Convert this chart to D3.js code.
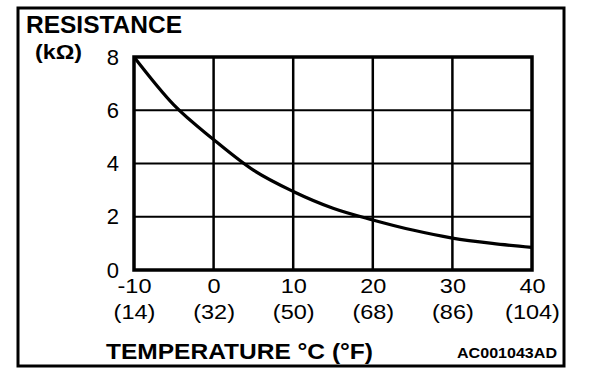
<!DOCTYPE html>
<html>
<head>
<meta charset="utf-8">
<script src="https://cdn.jsdelivr.net/npm/d3@7"></script>
<style>
  html, body { margin: 0; padding: 0; background: #fff; }
  svg { display: block; }
  text { font-family: "Liberation Sans", Arial, Helvetica, sans-serif; fill: #000; }
</style>
</head>
<body>
<svg id="chart" width="608" height="380"></svg>
<script>
const temperaturesC = [-10, -5, 0, 5, 10, 15, 20, 25, 30, 35, 40];
const resistanceK = [8.0, 6.2, 4.9, 3.75, 2.95, 2.32, 1.88, 1.5, 1.2, 1.0, 0.85];
const xTickValues = [-10, 0, 10, 20, 30, 40];
const xTickFahrenheit = ["(14)", "(32)", "(50)", "(68)", "(86)", "(104)"];
const yTickValues = [0, 2, 4, 6, 8];
const yTitleLines = ["RESISTANCE", "(kΩ)"];
const xTitle = "TEMPERATURE °C (°F)";
const figureCode = "AC001043AD";

const svg = d3.select("#chart");
const x = d3.scaleLinear().domain([-10, 40]).range([134, 532]);
const y = d3.scaleLinear().domain([0, 8]).range([270, 57]);
const FONT = "Liberation Sans, Arial, sans-serif";

// outer frame
svg.append("rect")
  .attr("x", 18).attr("y", 8).attr("width", 546).attr("height", 358)
  .attr("fill", "none").attr("stroke", "#000").attr("stroke-width", 3);

// grid
const grid = svg.append("g");
grid.selectAll("line.v").data(xTickValues.slice(1, -1)).join("line")
  .attr("x1", d => x(d)).attr("x2", d => x(d))
  .attr("y1", y(8)).attr("y2", y(0))
  .attr("stroke", "#000").attr("stroke-width", 2.5);
grid.selectAll("line.h").data(yTickValues.slice(1, -1)).join("line")
  .attr("x1", x(-10)).attr("x2", x(40))
  .attr("y1", d => y(d)).attr("y2", d => y(d))
  .attr("stroke", "#000").attr("stroke-width", 2);

// plot border
svg.append("rect")
  .attr("x", x(-10)).attr("y", y(8))
  .attr("width", x(40) - x(-10)).attr("height", y(0) - y(8))
  .attr("fill", "none").attr("stroke", "#000").attr("stroke-width", 3.5);

// curve
const line = d3.line()
  .x((d, i) => x(temperaturesC[i]))
  .y(d => y(d))
  .curve(d3.curveMonotoneX);
svg.append("path")
  .datum(resistanceK)
  .attr("d", line)
  .attr("fill", "none").attr("stroke", "#000").attr("stroke-width", 3.2);

// y axis labels
const yAxis = d3.axisLeft(y).tickValues(yTickValues).tickSize(0).tickPadding(15).tickFormat(d => String(d));
const gy = svg.append("g").attr("transform", `translate(${x(-10)},0)`).call(yAxis);
gy.select(".domain").remove();
gy.selectAll("text").attr("font-size", 22).attr("font-family", FONT).attr("fill", "#000");

// x axis labels
const xAxis = d3.axisBottom(x).tickValues(xTickValues).tickSize(0).tickPadding(8).tickFormat(d => String(d));
const gx = svg.append("g").attr("transform", `translate(0,${y(0)})`).call(xAxis);
gx.select(".domain").remove();
gx.selectAll("text").attr("font-size", 21).attr("font-family", FONT).attr("fill", "#000")
  .attr("transform", "scale(1.12,1)");
gx.selectAll(".tick").append("text")
  .attr("y", 49).attr("text-anchor", "middle")
  .attr("font-size", 21).attr("font-family", FONT).attr("fill", "#000")
  .attr("transform", "scale(1.12,1)")
  .text((d, i) => xTickFahrenheit[i]);

// titles
svg.append("text").attr("x", 26).attr("y", 33)
  .attr("font-size", 24).attr("font-weight", "bold")
  .attr("textLength", 156).attr("lengthAdjust", "spacingAndGlyphs").text(yTitleLines[0]);
svg.append("text").attr("x", 35).attr("y", 59)
  .attr("font-size", 21).attr("font-weight", "bold")
  .attr("textLength", 47).attr("lengthAdjust", "spacingAndGlyphs").text(yTitleLines[1]);
svg.append("text").attr("x", 106).attr("y", 359)
  .attr("font-size", 22).attr("font-weight", "bold")
  .attr("textLength", 267).attr("lengthAdjust", "spacingAndGlyphs").text(xTitle);
svg.append("text").attr("x", 557).attr("y", 358).attr("text-anchor", "end")
  .attr("font-size", 15).attr("font-weight", "bold")
  .attr("textLength", 100).attr("lengthAdjust", "spacingAndGlyphs").text(figureCode);
</script>
</body>
</html>
